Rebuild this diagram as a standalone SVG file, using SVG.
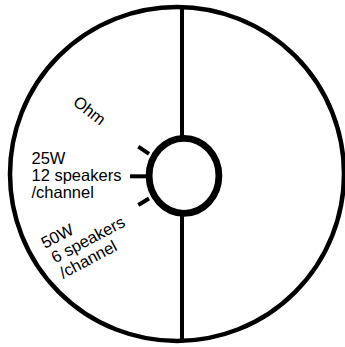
<svg xmlns="http://www.w3.org/2000/svg" width="345" height="347" viewBox="0 0 345 347">
<style>
.ln{stroke:#000;fill:none}
.t{font-family:"Liberation Sans",Arial,sans-serif;font-size:16.5px;fill:#000}
</style>
<rect width="345" height="347" fill="#fff"/>
<g id="connectors">
<circle class="ln" cx="177" cy="174" r="167" stroke-width="4.5"/>
<line class="ln" x1="182" y1="6" x2="182" y2="342" stroke-width="4"/>
<line class="ln" x1="130" y1="176.3" x2="147" y2="176.3" stroke-width="4"/>
<line class="ln" x1="138.3" y1="146.7" x2="149" y2="153.8" stroke-width="4"/>
<line class="ln" x1="138.3" y1="205" x2="149" y2="198.5" stroke-width="4"/>
</g>
<g id="hub">
<ellipse cx="184" cy="175.8" rx="34.9" ry="37.5" fill="#fff" stroke="#000" stroke-width="6.8"/>
</g>
<g id="label-ohm">
<text class="t" transform="translate(72,104) rotate(38)">Ohm</text>
</g>
<g id="label-25w">
<text class="t" x="31.5" y="164">25W</text>
<text class="t" x="31.5" y="181">12 speakers</text>
<text class="t" x="31.5" y="197.5">/channel</text>
</g>
<g id="label-50w">
<g transform="translate(45,249) rotate(-28)">
<text class="t" x="0" y="0">50W</text>
<text class="t" x="2" y="17.5">6 speakers</text>
<text class="t" x="2" y="35">/channel</text>
</g>
</g>
</svg>
